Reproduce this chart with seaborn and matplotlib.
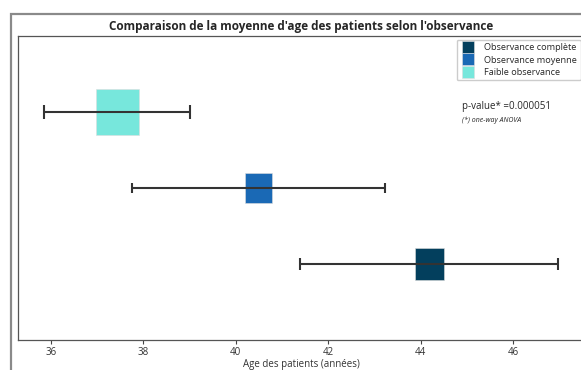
import matplotlib
matplotlib.use("Agg")
import matplotlib.pyplot as plt
import seaborn as sns
import pandas as pd
from matplotlib.lines import Line2D
from matplotlib.patches import Rectangle
from matplotlib.path import Path


# Data

groupes = ["Observance complète", "Observance moyenne", "Faible observance"]
moyennes = [44.19, 40.50, 37.44]
erreurs = [2.79, 2.74, 1.58]
rang = [0, 1, 2]
couleurs = ["#033f5d", "#1a69b5", "#77e7dc"]
p_value = "0.000051"

df = pd.DataFrame({"groupe": groupes, "age": moyennes, "err": erreurs, "y": rang})


# Style

sns.set_style("white")
plt.rcParams["font.family"] = ["Open Sans", "DejaVu Sans"]

fig = plt.figure(figsize=(5.81, 3.70), dpi=100)
ax = fig.add_axes([18.3 / 581, 30 / 370, 566 / 581, 304 / 370])

# slightly tall rectangle marker, like in the screenshot
rect = Path([(-0.46, -0.5), (0.46, -0.5), (0.46, 0.5), (-0.46, 0.5), (-0.46, -0.5)],
            [Path.MOVETO, Path.LINETO, Path.LINETO, Path.LINETO, Path.CLOSEPOLY])

tailles = {groupes[0]: 22.8 ** 2, groupes[1]: 21.3 ** 2, groupes[2]: 33.6 ** 2}
sns.scatterplot(data=df, x="age", y="y", hue="groupe", palette=couleurs,
                size="groupe", sizes=tailles, marker=rect, linewidth=0.4,
                edgecolor="#dddddd", legend=False, zorder=2, ax=ax)

caps = [4.0, 3.3, 5.0]
for i in range(len(df)):
    ax.errorbar(df["age"][i], df["y"][i], xerr=df["err"][i], fmt="none",
                ecolor="#333333", elinewidth=1.5, capsize=caps[i], capthick=1.5,
                zorder=3)

ax.set_xlim(35.30, 47.54)
ax.set_ylim(-1, 3)
ax.set_yticks([])
ax.set_ylabel("")
ax.set_xticks([36, 38, 40, 42, 44, 46])
ax.tick_params(axis="x", labelsize=7, length=3, width=0.8, color="#444444",
               labelcolor="#333333", bottom=True, pad=2)
for s in ax.spines.values():
    s.set_color("#555555")
    s.set_linewidth(0.9)

ax.set_xlabel("Age des patients (années)", fontsize=7, color="#333333", labelpad=1)
ax.set_title("Comparaison de la moyenne d'age des patients selon l'observance",
             fontsize=8.5, fontweight="bold", pad=4)

handles = [Line2D([], [], marker="s", linestyle="none", markersize=8,
                  markerfacecolor=c, markeredgecolor="#dddddd", markeredgewidth=0.4)
           for c in couleurs]
ax.legend(handles, groupes, loc="upper right", fontsize=6.6, handletextpad=1.0,
          handlelength=1.6, borderaxespad=0.4, borderpad=0.4, labelspacing=0.35,
          framealpha=1, edgecolor="#cccccc")

ax.text(462 / 581, 1 - 107 / 370, "p-value* =" + p_value, transform=fig.transFigure,
        fontsize=7, va="center", ha="left")
ax.text(462 / 581, 1 - 120 / 370, "(*) one-way ANOVA", transform=fig.transFigure,
        fontsize=5, style="italic", va="center", ha="left")

# outer grey frame of the screenshot
fig.patches.append(Rectangle((10.5 / 581, -0.1), 1.2, (370 - 14) / 370 + 0.1,
                             transform=fig.transFigure, fill=False,
                             edgecolor="#8a8a8a", linewidth=1.6))

fig.savefig("out.png", dpi=100)
